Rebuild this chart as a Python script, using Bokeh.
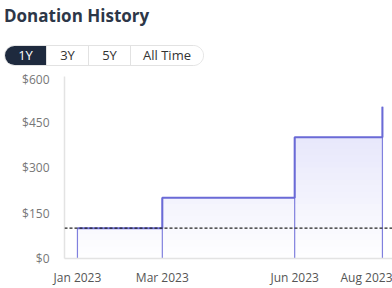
from datetime import datetime
from bokeh.plotting import figure
from bokeh.layouts import column
from bokeh.models import (Range1d, FixedTicker, DatetimeTickFormatter, PrintfTickFormatter,
                          Span, Div)
from bokeh.embed import file_html
from bokeh.resources import INLINE

# ---------------- data ----------------
TITLE = "Donation History"
RANGE_BUTTONS = ["1Y", "3Y", "5Y", "All Time"]
SELECTED = "1Y"
dates = [datetime(2023, 1, 1), datetime(2023, 3, 1), datetime(2023, 6, 1), datetime(2023, 8, 1)]
totals = [100, 200, 400, 500]
reference_level = 100
y_ticks = [0, 150, 300, 450, 600]

EPOCH = datetime(1970, 1, 1)
def ms(d):
    return (d - EPOCH).total_seconds() * 1000.0

FONT = "Open Sans"
W = 392
HEAD_H = 70
CHART_H = 288 - HEAD_H

# ---------------- header: title + range selector (real HTML text) ----------------
seg_widths = [41, 42, 42, 73]
segs = []
for i, (lab, w) in enumerate(zip(RANGE_BUTTONS, seg_widths)):
    sel = lab == SELECTED
    style = (f"box-sizing:border-box;width:{w}px;height:19px;line-height:19px;text-align:center;"
             f"color:{'#ffffff' if sel else '#333333'};background:{'#1e2a3e' if sel else '#ffffff'};"
             + ("border-left:1px solid #e2e2e2;" if i > 0 else ""))
    segs.append(f'<div style="{style}">{lab}</div>')

header_html = (
    f'<div style="position:relative;width:{W}px;height:{HEAD_H}px;font-family:\'{FONT}\',sans-serif;margin:0;padding:0;">'
    f'<div style="position:absolute;left:4px;top:4px;font-size:17px;font-weight:700;line-height:23px;'
    f'color:#2d3748;white-space:nowrap;">{TITLE}</div>'
    f'<div style="position:absolute;left:4px;top:45px;box-sizing:border-box;width:200px;height:21px;'
    f'border:1px solid #e2e2e2;border-radius:11px;overflow:hidden;display:flex;font-size:13px;">'
    + "".join(segs) +
    '</div></div>'
)
head = Div(text=header_html, width=W, height=HEAD_H, margin=0)

# ---------------- chart ----------------
x_start = datetime(2022, 12, 23)
x_end = datetime(2023, 8, 8)
p = figure(width=W, height=CHART_H, x_axis_type="datetime",
           x_range=Range1d(x_start, x_end), y_range=Range1d(0, 600),
           output_backend="svg", toolbar_location=None, margin=0,
           min_border_left=64, min_border_right=0, min_border_top=6, min_border_bottom=20)
p.grid.visible = False
p.outline_line_color = None
p.background_fill_color = "white"
p.border_fill_color = "white"

# gradient fill under the step line (stacked bands, dark at top)
top_rgb = (0xe2, 0xe2, 0xfa)
n_bands = 25
vmax = max(totals)
for k in range(n_bands, 0, -1):
    hi = vmax * k / n_bands
    t = k / n_bands
    c = tuple(int(round(255 * (1 - t) + top_rgb[j] * t)) for j in range(3))
    color = "#%02x%02x%02x" % c
    p.varea_step(x=dates, y1=[0] * len(totals), y2=[min(v, hi) for v in totals],
                 step_mode="after", fill_color=color, fill_alpha=1)

p.segment(x0=dates, y0=[0] * len(totals), x1=dates, y1=totals,
          line_color="#8080de", line_width=1.2)
p.step(x=dates, y=totals, mode="after", line_color="#6a6ad6", line_width=2)

p.add_layout(Span(location=reference_level, dimension="width", line_color="#222222",
                  line_dash="3 2", line_width=1.2))

# axes
p.xaxis.ticker = FixedTicker(ticks=[ms(d) for d in dates])
p.xaxis.formatter = DatetimeTickFormatter(months="%b %Y", days="%b %Y", years="%b %Y")
p.yaxis.ticker = FixedTicker(ticks=y_ticks)
p.yaxis.formatter = PrintfTickFormatter(format="$%d")
for ax in (p.xaxis, p.yaxis):
    ax.major_tick_line_color = None
    ax.minor_tick_line_color = None
    ax.major_label_text_font = FONT
    ax.major_label_text_font_size = "12px"
    ax.axis_line_color = "#e3e3e3"
    ax.axis_line_width = 1.5
p.xaxis.major_label_text_color = "#555555"
p.yaxis.major_label_text_color = "#777777"
p.xaxis.major_label_standoff = 4
p.yaxis.major_label_standoff = 9

layout = column(head, p, spacing=0, margin=0)
open("out.html", "w").write(file_html(layout, INLINE))
